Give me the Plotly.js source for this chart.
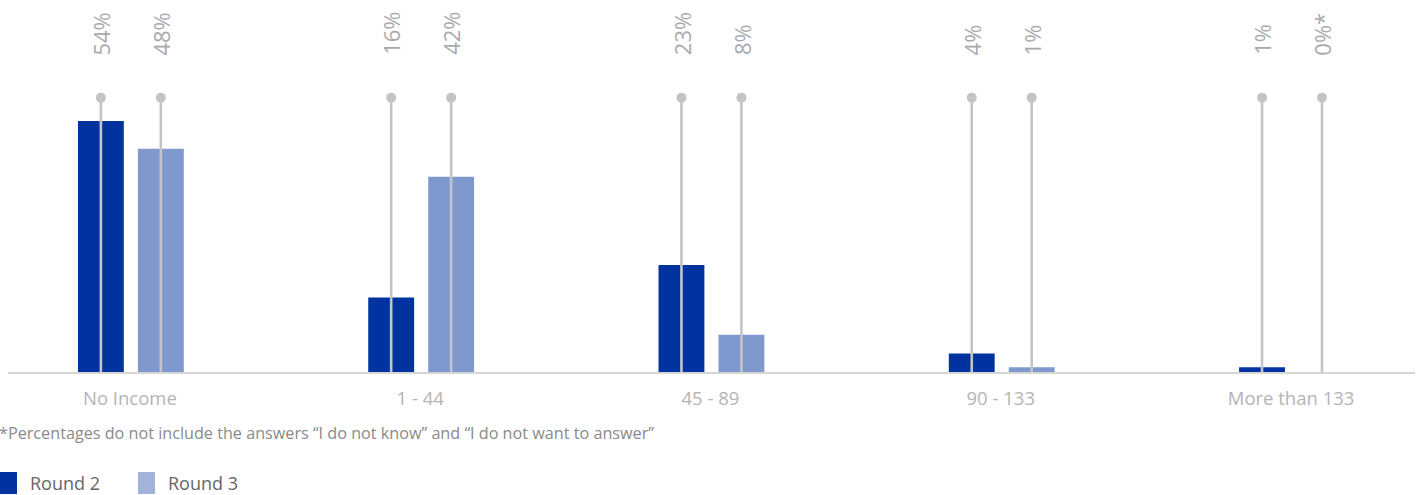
<!DOCTYPE html>
<html>
<head>
<meta charset="utf-8">
<script src="https://cdn.plot.ly/plotly-3.0.1.min.js"></script>
<style>
  html, body { margin: 0; padding: 0; background: #ffffff; }
  #chart { width: 1424px; height: 495px; }
</style>
</head>
<body>
<div id="chart"></div>
<script>
// Monthly income groups and the share of respondents in each round
const categories = ["No Income", "1 - 44", "45 - 89", "90 - 133", "More than 133"];
const round2Values = [54, 16, 23, 4, 1];
const round3Values = [48, 42, 8, 1, 0];
const round2Labels = ["54%", "16%", "23%", "4%", "1%"];
const round3Labels = ["48%", "42%", "8%", "1%", "0%*"];
const seriesNames = ["Round 2", "Round 3"];
const footnote = "*Percentages do not include the answers \u201cI do not know\u201d and \u201cI do not want to answer\u201d";

// Styling
const W = 1424, H = 495;
const M = { l: 8, r: 9, t: 0, b: 123 };
const colR2 = "#0033a0";
const colR3 = "#7f99cf";
const colR3Key = "#a2b3da";
const stemColor = "#c4c4c8";
const labelColor = "#a9a9ad";
const BAR_W = 0.158;
const OFF = [-0.179, 0.0276];
const STEM_TOP = 59;
const LABEL_Y = 67.7;
const FONT = "Open Sans, Noto Sans, sans-serif";

const idx = categories.map((_, i) => i);
const centers = OFF.map(o => idx.map(i => i + o + BAR_W / 2));

function stemXY(cs) {
  const x = [], y = [];
  cs.forEach(c => { x.push(c, c, null); y.push(0, STEM_TOP, null); });
  return { x, y };
}

const traces = [];
[round2Values, round3Values].forEach((vals, s) => {
  traces.push({
    type: "bar",
    name: seriesNames[s],
    x: idx,
    y: vals,
    width: BAR_W,
    offset: OFF[s],
    marker: { color: s === 0 ? colR2 : colR3 },
    hoverinfo: "skip",
    showlegend: false
  });
});
[0, 1].forEach(s => {
  const st = stemXY(centers[s]);
  traces.push({
    type: "scatter", mode: "lines",
    x: st.x, y: st.y,
    line: { color: stemColor, width: 2.6 },
    hoverinfo: "skip", showlegend: false, cliponaxis: false
  });
  traces.push({
    type: "scatter", mode: "markers",
    x: centers[s], y: centers[s].map(() => STEM_TOP),
    marker: { color: stemColor, size: 10 },
    hoverinfo: "skip", showlegend: false, cliponaxis: false
  });
});

const annotations = [];
[round2Labels, round3Labels].forEach((labs, s) => {
  labs.forEach((t, i) => {
    annotations.push({
      x: centers[s][i], y: LABEL_Y, xref: "x", yref: "y",
      text: t, showarrow: false, textangle: -90,
      xanchor: "center", yanchor: "bottom",
      font: { family: FONT, size: 22, color: labelColor }
    });
  });
});

// pixel helpers for paper-referenced items below the plot
const pw = W - M.l - M.r, ph = H - M.t - M.b;
const px = v => (v - M.l) / pw;
const py = v => (H - M.b - v) / ph;

annotations.push({
  xref: "paper", yref: "paper", x: px(-3), y: py(433),
  xanchor: "left", yanchor: "middle", showarrow: false,
  text: footnote,
  font: { family: FONT, size: 16.2, color: "#8a8a8a" }
});

const keyX = [0, 138];
const shapes = [];
[0, 1].forEach(s => {
  shapes.push({
    type: "rect", xref: "paper", yref: "paper",
    x0: px(keyX[s]), x1: px(keyX[s] + 17),
    y0: py(472), y1: py(494),
    fillcolor: s === 0 ? colR2 : colR3Key, line: { width: 0 }
  });
  annotations.push({
    xref: "paper", yref: "paper", x: px(keyX[s] + 28), y: py(483),
    xanchor: "left", yanchor: "middle", showarrow: false,
    text: seriesNames[s],
    font: { family: FONT, size: 18, color: "#666666" }
  });
});

const layout = {
  width: W, height: H,
  margin: M,
  paper_bgcolor: "#ffffff",
  plot_bgcolor: "#ffffff",
  barmode: "overlay",
  showlegend: false,
  xaxis: {
    range: [-0.42, 4.427],
    tickvals: idx, ticktext: categories,
    showgrid: false, zeroline: false,
    showline: true, linecolor: "#d6d6d6", linewidth: 2,
    ticks: "", ticklen: 0,
    ticklabelstandoff: 9,
    tickfont: { family: FONT, size: 18.5, color: "#b4b4b4" },
    fixedrange: true
  },
  yaxis: {
    range: [0, 80],
    visible: false, showgrid: false, zeroline: false,
    fixedrange: true
  },
  annotations: annotations,
  shapes: shapes
};

Plotly.newPlot("chart", traces, layout, { staticPlot: true, displayModeBar: false });
</script>
</body>
</html>
